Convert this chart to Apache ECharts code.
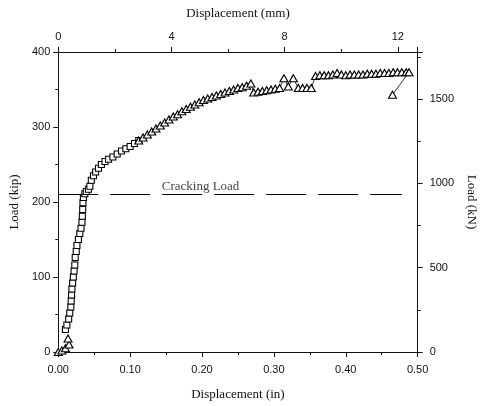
<!DOCTYPE html>
<html>
<head>
<meta charset="utf-8">
<script src="https://cdn.jsdelivr.net/npm/echarts@6/dist/echarts.min.js"></script>
<style>
  html, body { margin: 0; padding: 0; background: #fff; }
  #chart { width: 486px; height: 406px; }
</style>
</head>
<body>
<div id="chart"></div>
<script>
// displacement (in) and load (kip)
var startDisp = [0, 0.005, 0.010, 0.015, 0.0136]
var startLoad = [0, 2, 5, 10, 18]

var squareDisp = [0.010, 0.012, 0.0145, 0.016, 0.0175, 0.018, 0.0185, 0.019, 0.020, 0.021,
	0.022, 0.023, 0.0236, 0.025, 0.026, 0.028, 0.030, 0.0317, 0.033, 0.0335,
	0.034, 0.0344, 0.035, 0.037, 0.039, 0.042, 0.044, 0.046, 0.049, 0.052,
	0.056, 0.060, 0.065, 0.070, 0.076, 0.082, 0.088, 0.094, 0.100, 0.106, 0.112]
var squareLoad = [30, 36, 44, 52, 60, 68, 76, 84, 92, 100,
	108, 116, 126, 134, 142, 150, 158, 165, 173, 181,
	190, 199, 206, 211, 214, 217, 221, 229, 235, 240,
	245, 250, 254, 257, 260, 264, 268, 271, 274, 278, 282]

var triDisp = [0.112, 0.118, 0.124, 0.130, 0.136, 0.142, 0.148, 0.154, 0.160, 0.166,
	0.172, 0.178, 0.184, 0.190, 0.196, 0.202, 0.208, 0.214, 0.220, 0.226,
	0.232, 0.238, 0.244, 0.250, 0.256, 0.262, 0.268, 0.272, 0.278, 0.284,
	0.290, 0.296, 0.302, 0.308, 0.314, 0.320, 0.327, 0.334, 0.340, 0.346,
	0.352, 0.358, 0.364, 0.370, 0.376, 0.382, 0.388, 0.394, 0.400, 0.406,
	0.412, 0.418, 0.424, 0.430, 0.436, 0.442, 0.448, 0.454, 0.460, 0.466,
	0.472, 0.478, 0.484, 0.488, 0.465]
var triLoad = [282, 286, 290, 294, 298, 302, 306, 310, 314, 317,
	321, 324, 327, 330, 333, 336, 338, 340, 342, 344,
	346, 348, 350, 352, 353, 355, 358, 346, 347, 348,
	349, 350, 351, 352, 365, 354, 365, 352, 352, 352,
	352, 368, 369, 369, 369, 370, 372, 370, 369, 370,
	370, 370, 370, 371, 371, 371, 372, 372, 372, 373,
	373, 373, 373, 373, 343]

var crackLoad = 211
var crackEnd = 0.478
var crackText = 'Cracking Load'
var crackTextX = 0.144

var inTicks = [0, 0.1, 0.2, 0.3, 0.4, 0.5]
var mmTicks = [0, 4, 8, 12]
var kipTicks = [0, 100, 200, 300, 400]
var kNTicks = [0, 500, 1000, 1500]

function pairs(xs, ys) {
	let out = []
	for (let i = 0; i < xs.length; i++) out.push([xs[i], ys[i]])
	return out
}

let myChart = echarts.init(document.getElementById('chart'))

var sans = 'Liberation Sans'
var serif = 'Liberation Serif'
var black = '#111'

function axisBase() {
	return {
		axisLine: { show: true, onZero: false, lineStyle: { color: black, width: 1 } },
		axisTick: { show: true, length: 5, lineStyle: { color: black } },
		minorTick: { show: true, splitNumber: 2, length: 3, lineStyle: { color: black } },
		splitLine: { show: false },
		nameTextStyle: { fontFamily: serif, fontSize: 13, color: black },
		axisLabel: { fontFamily: sans, fontSize: 11, color: black }
	}
}

var xBottom = Object.assign(axisBase(), {
	type: 'value', position: 'bottom', min: inTicks[0], max: inTicks[inTicks.length - 1], interval: 0.1,
	name: 'Displacement (in)', nameLocation: 'middle', nameGap: 36
})
xBottom.axisLabel.margin = 12
xBottom.axisLabel.formatter = function (v) { return v.toFixed(2) }

var xTop = Object.assign(axisBase(), {
	type: 'value', position: 'top', min: 0, max: 0.5 * 25.4, interval: 4,
	name: 'Displacement (mm)', nameLocation: 'middle', nameGap: 32
})
xTop.axisLabel.margin = 10
xTop.axisLabel.showMaxLabel = false
xTop.axisLabel.formatter = function (v) { return mmTicks.indexOf(v) >= 0 ? String(v) : '' }

var yLeft = Object.assign(axisBase(), {
	type: 'value', position: 'left', min: kipTicks[0], max: kipTicks[kipTicks.length - 1], interval: 100,
	name: 'Load (kip)', nameLocation: 'middle', nameGap: 32, nameRotate: 90
})
yLeft.axisLabel.margin = 8

var yRight = Object.assign(axisBase(), {
	type: 'value', position: 'right', min: 0, max: 400 * 4.448, interval: 500,
	name: 'Load (kN)', nameLocation: 'middle', nameGap: 39, nameRotate: -90
})
yRight.axisLabel.margin = 12
yRight.axisLabel.showMaxLabel = false
yRight.axisLabel.formatter = function (v) { return kNTicks.indexOf(v) >= 0 ? String(v) : '' }

var marker = { color: '#fff', borderColor: '#000', borderWidth: 1.1 }

option = {
	animation: false,
	backgroundColor: '#fff',
	grid: { left: 56, right: 62, top: 52, bottom: 53 },
	xAxis: [xBottom, xTop],
	yAxis: [yLeft, yRight],
	series: [
		{
			type: 'line',
			data: pairs(startDisp, startLoad),
			symbol: 'triangle',
			symbolSize: [8, 7],
			itemStyle: marker,
			lineStyle: { color: '#000', width: 0.8 }
		},
		{
			type: 'line',
			data: pairs(squareDisp, squareLoad),
			symbol: 'rect',
			symbolSize: 6,
			itemStyle: marker,
			lineStyle: { color: '#000', width: 0.8 }
		},
		{
			type: 'line',
			data: pairs(triDisp, triLoad),
			symbol: 'triangle',
			symbolSize: [8, 7],
			itemStyle: marker,
			lineStyle: { color: '#000', width: 0.8 },
			markLine: {
				silent: true,
				symbol: ['none', 'none'],
				label: { show: false },
				lineStyle: { color: '#000', width: 1, type: [40, 12] },
				data: [[{ coord: [0, crackLoad] }, { coord: [crackEnd, crackLoad] }]]
			}
		},
		{
			type: 'scatter',
			data: [[crackTextX, crackLoad]],
			symbolSize: 0,
			silent: true,
			label: {
				show: true,
				position: [0, -1],
				align: 'left',
				verticalAlign: 'bottom',
				formatter: crackText,
				fontFamily: serif,
				fontSize: 13,
				color: black
			}
		}
	]
}
myChart.setOption(option);
</script>
</body>
</html>
